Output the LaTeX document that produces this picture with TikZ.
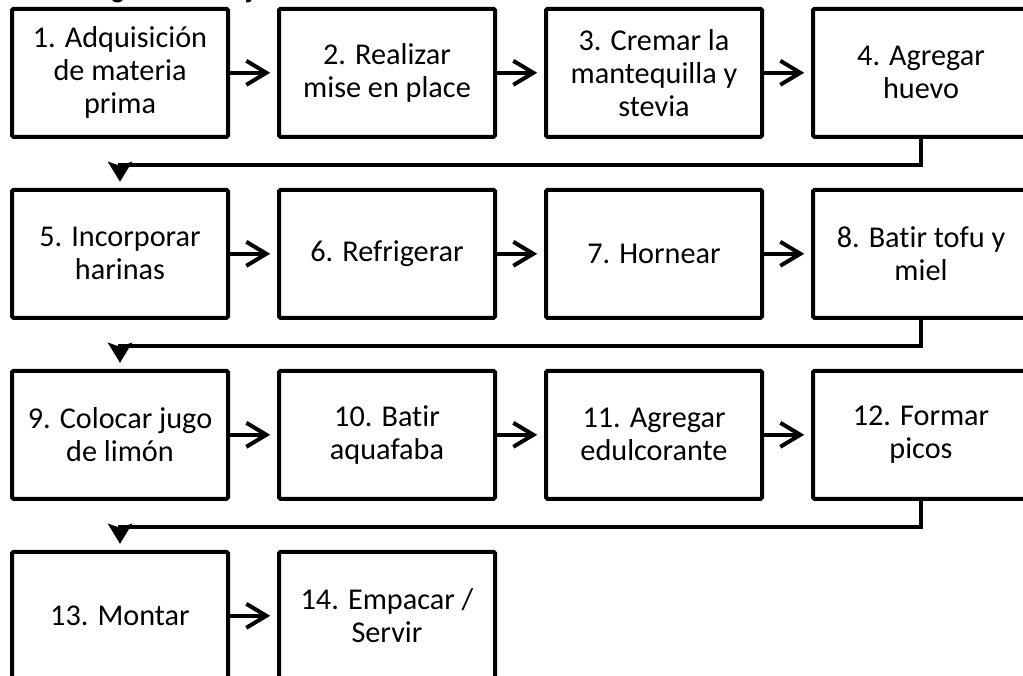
\documentclass[tikz,border=0pt]{standalone}
\usepackage{fontspec}
\setmainfont{Carlito}[Ligatures=NoCommon]
\usetikzlibrary{arrows.meta, positioning, calc}

\begin{document}
\begin{tikzpicture}[node distance=1.225cm and 1.175cm, line width=0.1cm,
    >={Straight Barb[length=0.5cm, width=0.6cm]},
    box/.style={draw, rectangle, rounded corners=1pt, minimum width=5.4cm, minimum height=3.2cm, align=center, font=\fontsize{21.5}{23.5}\selectfont},
    flow/.style={->, shorten >=0.17cm},
    turn/.style={-{Stealth[length=0.5cm, width=0.6cm, inset=0.1cm]}, shorten >=0.15cm}]
        \path[use as bounding box] (0,0) rectangle (25.575,-16.875);
        \clip (0,0) rectangle (25.575,-16.875);

        % Title
        \node[anchor=base west, inner sep=0pt, font=\bfseries\fontsize{18.5}{22}\selectfont] (Titulo) at (1.85,0.04) {Diagrama de flujo};

        % Nodes
        \node[box] (Adq) at (3.0,-1.82) {1. Adquisición\\de materia\\prima};
        \node[box, right=of Adq] (Mise) {2. Realizar\\mise en place};
        \node[box, right=of Mise] (Cremar) {3. Cremar la\\mantequilla y\\stevia};
        \node[box, right=of Cremar] (Huevo) {4. Agregar\\huevo};

        \node[box, below=of Adq] (Harinas) {5. Incorporar\\harinas};
        \node[box, right=of Harinas] (Refri) {6. Refrigerar};
        \node[box, right=of Refri] (Hornear) {7. Hornear};
        \node[box, right=of Hornear] (Tofu) {8. Batir tofu y\\miel};

        \node[box, below=of Harinas] (Limon) {9. Colocar jugo\\de limón};
        \node[box, right=of Limon] (Aquafaba) {10. Batir\\aquafaba};
        \node[box, right=of Aquafaba] (Edulc) {11. Agregar\\edulcorante};
        \node[box, right=of Edulc] (Picos) {12. Formar\\picos};

        \node[box, below=of Limon] (Montar) {13. Montar};
        \node[box, right=of Montar] (Empacar) {14. Empacar /\\Servir};

        % Connections
        \draw[flow] (Adq) -- (Mise);
        \draw[flow] (Mise) -- (Cremar);
        \draw[flow] (Cremar) -- (Huevo);
        \draw[turn] (Huevo.south) -- ++(0,-0.65) -| (Harinas.north);

        \draw[flow] (Harinas) -- (Refri);
        \draw[flow] (Refri) -- (Hornear);
        \draw[flow] (Hornear) -- (Tofu);
        \draw[turn] (Tofu.south) -- ++(0,-0.65) -| (Limon.north);

        \draw[flow] (Limon) -- (Aquafaba);
        \draw[flow] (Aquafaba) -- (Edulc);
        \draw[flow] (Edulc) -- (Picos);
        \draw[turn] (Picos.south) -- ++(0,-0.65) -| (Montar.north);

        \draw[flow] (Montar) -- (Empacar);
    \end{tikzpicture}
\end{document}
